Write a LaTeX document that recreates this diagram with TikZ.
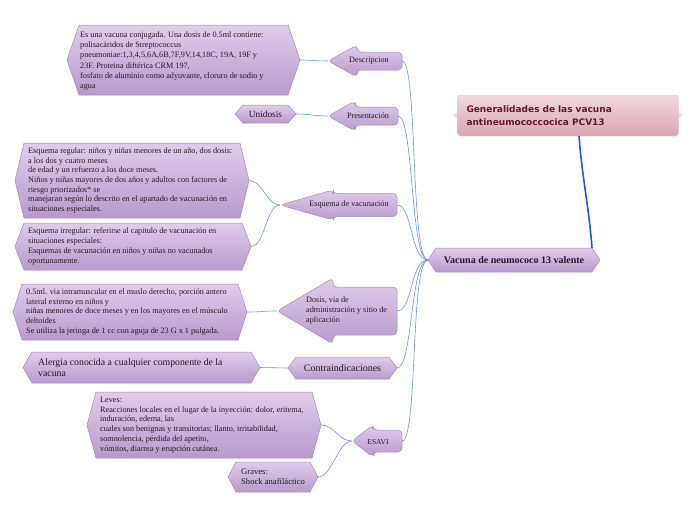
\documentclass[tikz,border=0pt]{standalone}
\usepackage{fontspec}
\setmainfont{Liberation Serif}
\newfontfamily\headfont{DejaVu Sans}
\usetikzlibrary{positioning, calc}

\definecolor{lilaclight}{RGB}{224,204,236}
\definecolor{lilacdark}{RGB}{184,154,203}
\definecolor{lilacedge}{RGB}{166,134,190}
\definecolor{inkdark}{RGB}{38,26,40}
\definecolor{linkblue}{RGB}{96,150,232}
\definecolor{trunkblue}{RGB}{24,92,214}
\definecolor{rosalight}{RGB}{242,214,222}
\definecolor{rosadark}{RGB}{216,168,180}
\definecolor{rosaedge}{RGB}{232,196,204}
\definecolor{wine}{RGB}{104,22,44}

% hexagon box: name, x1, x2, y1, y2, point depth
\newcommand{\hexpath}[6]{%
  \path[lilac] (#2,{(#4+#5)/2}) -- (#2+#6,#4) -- (#3-#6,#4) -- (#3,{(#4+#5)/2})
    -- (#3-#6,#5) -- (#2+#6,#5) -- cycle;
  \coordinate (#1-w) at (#2,{(#4+#5)/2});
  \coordinate (#1-e) at (#3,{(#4+#5)/2});
  \coordinate (#1-ne) at (#3-#6,#4);}

% arrow pointing left: name, tip x, mid y, neck x, end x, head half, shaft half
\newcommand{\leftarrowpath}[7]{%
  \path[lilac, rounded corners=4pt] (#2,#3) -- (#4,#3-#6) -- (#4,#3-#7) -- (#5,#3-#7)
    -- (#5,#3+#7) -- (#4,#3+#7) -- (#4,#3+#6) -- cycle;
  \coordinate (#1-w) at (#2,#3);
  \coordinate (#1-e) at (#5,#3);}

\begin{document}
\begin{tikzpicture}[x=1pt, y=-1pt,
  lilac/.style={draw=lilacedge, line width=0.5pt, top color=lilaclight, bottom color=lilacdark},
  boxtext/.style={anchor=west, align=left, inner sep=0pt, text=inkdark,
                  font=\fontsize{8.2}{9.7}\selectfont},
  armtext/.style={align=left, inner sep=0pt, text=inkdark,
                  font=\fontsize{8.2}{10}\selectfont},
  titlebox/.style={rounded corners=3pt, draw=rosaedge, top color=rosalight, bottom color=rosadark,
                   minimum width=221pt, minimum height=41pt, text width=203pt, align=left,
                   inner sep=0pt, text=wine, font=\headfont\bfseries\fontsize{9}{12.5}\selectfont},
  link/.style={draw=linkblue, line width=0.6pt},
  trunk/.style={draw=trunkblue, line width=1.6pt}
]
\useasboundingbox (0,0) rectangle (696,520);

% title
\path[fill=rosalight] (459,111) -- (453,115.5) -- (459,120) -- cycle;
\path[fill=rosalight] (677,111) -- (683,115.5) -- (677,120) -- cycle;
\node[titlebox] (title) at (568,115.5) {Generalidades de las vacuna\\antineumococcocica PCV13};

% centre
\hexpath{vac}{428}{600}{248}{272}{8}
\node[armtext, font=\bfseries\fontsize{10}{12}\selectfont] (vactxt) at (514,260) {Vacuna de neumococo 13 valente};

% branch shapes
\leftarrowpath{descarr}{328}{61}{357}{402}{16}{9}
\leftarrowpath{presarr}{328}{116}{355}{398}{15}{9}
\leftarrowpath{esqarr}{280}{205}{333}{397}{15}{11.5}
\leftarrowpath{dosarr}{277}{311}{333}{397}{33}{24}
\hexpath{contra}{288}{397}{357}{379}{8}
\leftarrowpath{esaviarr}{352}{441}{373}{402}{16}{11}

\node[armtext] (desctag) at (369,61) {Descripcion};
\node[armtext] (prestag) at (368,116) {Presentación};
\node[armtext] (esqtag) at (349,205) {Esquema de vacunación};
\node[armtext, anchor=west] (dostag) at (306,311) {Dosis, via de\\administración y sitio de\\aplicación};
\node[armtext, font=\fontsize{10}{12}\selectfont] (contratag) at (342.5,368) {Contraindicaciones};
\node[armtext, font=\fontsize{7.5}{9}\selectfont] (esavitag) at (378,442) {ESAVI};

% leaf shapes
\hexpath{descbox}{67}{300}{25}{95}{12}
\hexpath{uni}{235}{296}{105}{123}{8}
\hexpath{reg}{15}{249}{143}{218}{9}
\hexpath{irr}{15}{251}{223}{270}{9}
\hexpath{dosbox}{13}{247}{284}{340}{9}
\hexpath{alergia}{23}{260}{352}{383}{9}
\hexpath{leves}{87}{321}{392}{458}{9}
\hexpath{graves}{228}{318}{462}{492}{8}

\node[boxtext, font=\fontsize{8.2}{10.3}\selectfont] (desctxt) at (80,61) {Es una vacuna conjugada. Una dosis de 0.5ml contiene:\\polisacáridos de Streptococcus\\pneumoniae:1,3,4,5,6A,6B,7F,9V,14,18C, 19A, 19F y\\23F. Proteina diftérica CRM 197,\\fosfato de aluminio como adyuvante, cloruro de sodio y\\agua};
\node[armtext, font=\fontsize{9.3}{11}\selectfont] (unitxt) at (265.5,114) {Unidosis};
\node[boxtext] (regtxt) at (28,180.5) {Esquema regular: niños y niñas menores de un año, dos dosis:\\a los dos y cuatro meses\\de edad y un refuerzo a los doce meses.\\Niños y niñas mayores de dos años y adultos con factores de\\riesgo priorizados* se\\manejaran según lo descrito en el apartado de vacunación en\\situaciones especiales.};
\node[boxtext] (irrtxt) at (28,246.5) {Esquema irregular: referirse al capitulo de vacunación en\\situaciones especiales:\\Esquemas de vacunación en niños y niñas no vacunados\\oportunamente.};
\node[boxtext] (dostxt) at (26,312) {0.5ml. via intramuscular en el muslo derecho, porción antero\\lateral externo en niños y\\niñas menores de doce meses y en los mayores en el músculo\\deltoides\\Se utiliza la jeringa de 1 cc con aguja de 23 G x 1 pulgada.};
\node[boxtext, font=\fontsize{9.8}{11}\selectfont] (alergiatxt) at (38,367.5) {Alergia conocida a cualquier componente de la\\vacuna};
\node[boxtext] (levestxt) at (100,425) {Leves:\\Reacciones locales en el lugar de la inyección: dolor, eritema,\\induración, edema, las\\cuales son benignas y transitorias; llanto, irritabilidad,\\somnolencia, pérdida del apetito,\\vómitos, diarrea y erupción cutánea.};
\node[boxtext, font=\fontsize{8.6}{10.2}\selectfont] (gravestxt) at (241,477) {Graves:\\Shock anafiláctico};

% connectors
\draw[trunk] ($(title.south)+(11,0)$) .. controls +(3,40) and +(-3,-40) .. (vac-ne);
\foreach \arm in {descarr, presarr, esqarr, dosarr, contra, esaviarr}
  \draw[link] (vac-w) .. controls +(-18,0) and +(16,0) .. (\arm-e);
\draw[link] (descarr-w) .. controls +(-12,0) and +(12,0) .. (descbox-e);
\draw[link] (presarr-w) .. controls +(-14,0) and +(14,0) .. (uni-e);
\draw[link] (esqarr-w) .. controls +(-14,0) and +(14,0) .. (reg-e);
\draw[link] (esqarr-w) .. controls +(-14,0) and +(14,0) .. (irr-e);
\draw[link] (dosarr-w) .. controls +(-14,0) and +(14,0) .. (dosbox-e);
\draw[link] (contra-w) .. controls +(-14,0) and +(14,0) .. (alergia-e);
\draw[link] (esaviarr-w) .. controls +(-14,0) and +(14,0) .. (leves-e);
\draw[link] (esaviarr-w) .. controls +(-14,0) and +(14,0) .. (graves-e);
\end{tikzpicture}
\end{document}
